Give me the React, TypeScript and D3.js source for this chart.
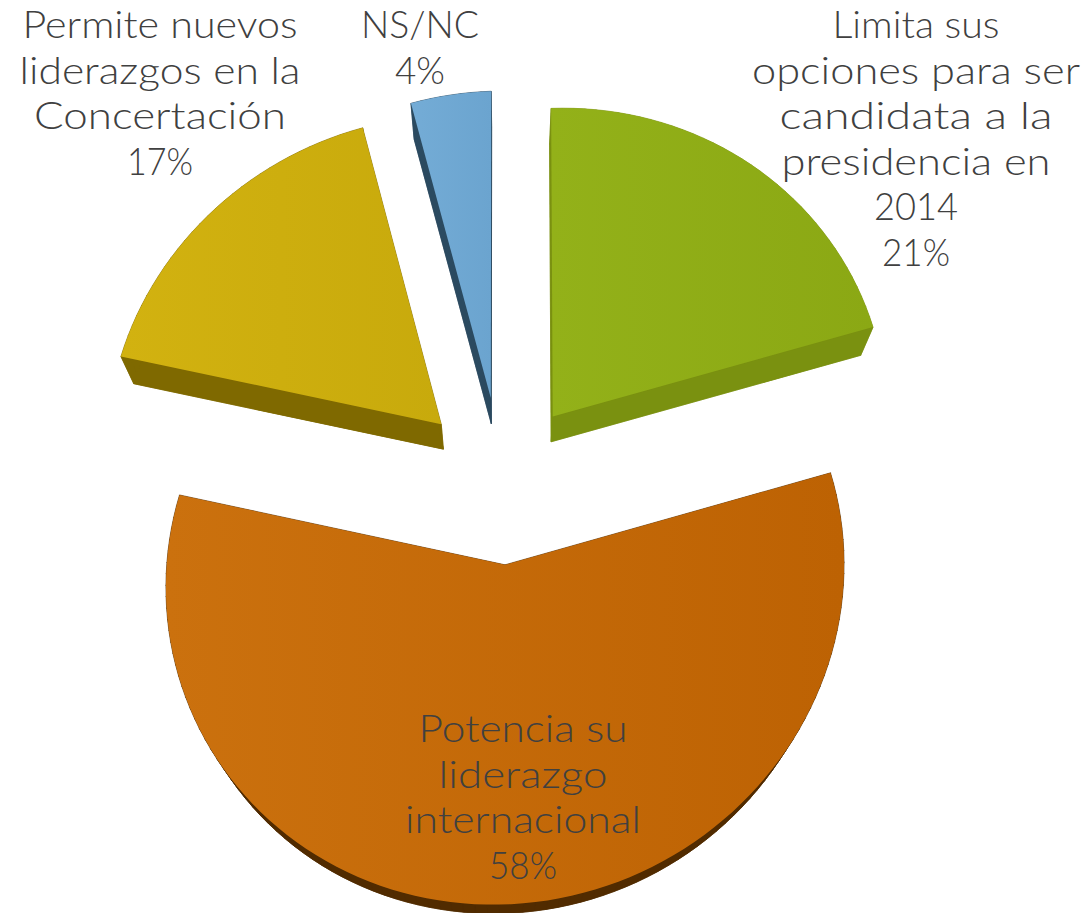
import React from "react";
import * as d3 from "d3";

// ---- data ----
const categories = ["Limita sus opciones", "Potencia su liderazgo", "Permite nuevos liderazgos", "NS/NC"];
const values = [21, 58, 17, 4];
const faceStart = ["#93b119", "#cb710e", "#d2b210", "#74acd6"];
const faceEnd = ["#8ba814", "#bd6203", "#c8aa0c", "#6ba4cf"];
const wallColors = ["#7a9110", "#512b00", "#7f6900", "#2b4a60"];
const explode = [80, 85, 85, 90];
const nudgeX = [-1, 0, -4, -3];
const nudgeY = [-4, 0, -3, 0];

const labelLines = [
  ["Limita sus", "opciones para ser", "candidata a la", "presidencia en", "2014", "21%"],
  ["Potencia su", "liderazgo", "internacional", "58%"],
  ["Permite nuevos", "liderazgos en la", "Concertación", "17%"],
  ["NS/NC", "4%"],
];
const labelWidths = [
  [167, 328, 273, 269, 84, 68],
  [209, 169, 236, 68],
  [275, 281, 252, 66],
  [118, 50],
];
const labelCenters = [916, 523, 160, 420];
const labelBaselines = [38, 742, 38, 38];

// ---- geometry of the tilted plane ----
const W = 1084, H = 913;
const R = 336, cx = 505, cy = 482.5, B = 0.96, P = 1e-4, S = -0.034;
const vpX = 505, vpY = 1170, depth = 0.0335;
const lineH = 45.6;

type Pt = [number, number];
const project = (x: number, y: number): Pt => {
  const w = 1 - P * y;
  return [cx + x / w, cy + (B * y + S * x) / w];
};
const drop = ([x, y]: Pt): Pt => [x + (vpX - x) * depth, y + (vpY - y) * depth];
const line = d3.line<Pt>();

const arcs = d3.pie<number>().sort(null)(values);

const slices = arcs.map((a, i) => {
  const mid = (a.startAngle + a.endAngle) / 2;
  const ox = explode[i] * Math.sin(mid), oy = -explode[i] * Math.cos(mid);
  const n = Math.max(4, Math.ceil((a.endAngle - a.startAngle) / (Math.PI / 90)));
  const angle = d3.scaleLinear().domain([0, n]).range([a.startAngle, a.endAngle]);
  const place = (x: number, y: number): Pt => {
    const [sx, sy] = project(x, y);
    return [sx + nudgeX[i], sy + nudgeY[i]];
  };
  const rim: Pt[] = d3.range(n + 1).map((k) => place(ox + R * Math.sin(angle(k)), oy - R * Math.cos(angle(k))));
  const outline: Pt[] = [place(ox, oy), ...rim];
  return { outline, i };
});

export default function App() {
  return (
    <svg width={W} height={H} style={{ position: "absolute", left: 0, top: 0, display: "block" }}
      fontFamily="Lato, 'Open Sans', sans-serif">
      <defs>
        {slices.map(({ outline, i }) => {
          const xs = d3.extent(outline, (p) => p[0]) as [number, number];
          return (
            <linearGradient key={i} id={`face${i}`} gradientUnits="userSpaceOnUse" x1={xs[0]} x2={xs[1]} y1={0} y2={0}>
              <stop offset="0" stopColor={faceStart[i]} />
              <stop offset="1" stopColor={faceEnd[i]} />
            </linearGradient>
          );
        })}
      </defs>
      {slices.map(({ outline, i }) => (
        <g key={i} aria-label={categories[i]}>
          <g fill={wallColors[i]} stroke={wallColors[i]} strokeWidth={0.6}>
            <path d={line(outline.map(drop)) + "Z"} />
            {outline.map((p, k) => {
              const q = outline[(k + 1) % outline.length];
              return <path key={k} d={line([p, q, drop(q), drop(p)]) + "Z"} />;
            })}
          </g>
          <path d={line(outline) + "Z"} fill={`url(#face${i})`} />
        </g>
      ))}
      {labelLines.map((lines, i) =>
        lines.map((t, j) => (
          <text key={`${i}-${j}`} x={labelCenters[i]} y={labelBaselines[i] + j * lineH} textAnchor="middle"
            fontSize={38} fontWeight={300} fill="#404040" textLength={labelWidths[i][j]} lengthAdjust="spacingAndGlyphs">
            {t}
          </text>
        ))
      )}
    </svg>
  );
}
